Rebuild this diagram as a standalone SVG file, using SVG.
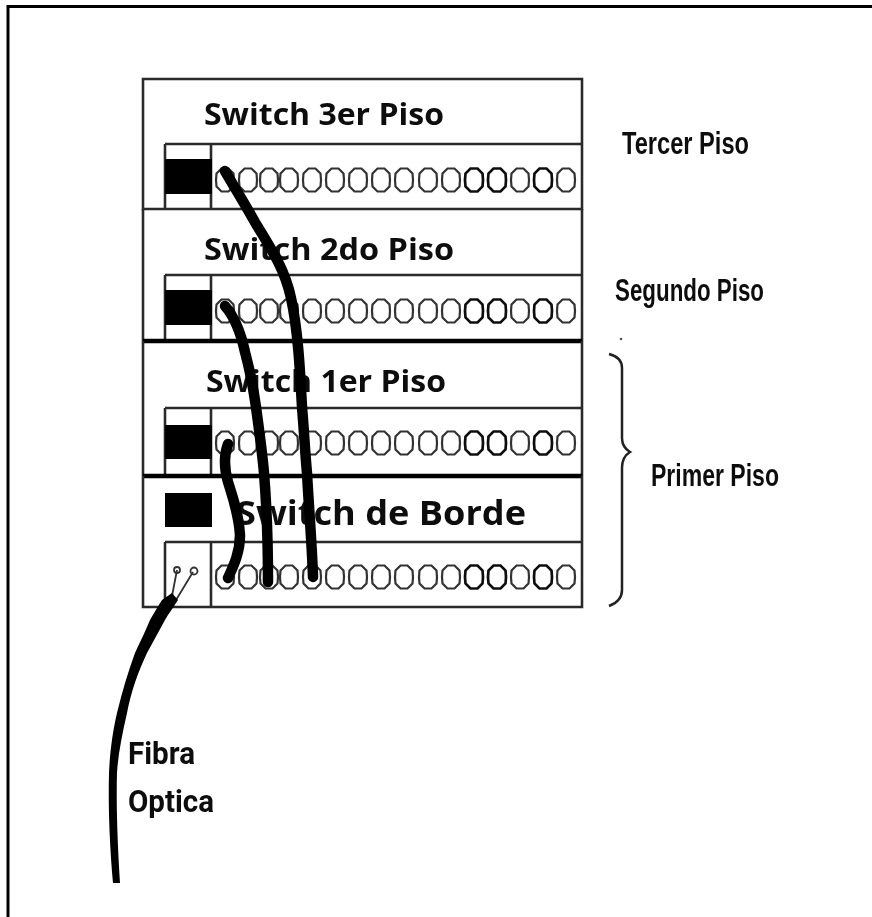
<svg xmlns="http://www.w3.org/2000/svg" xmlns:xlink="http://www.w3.org/1999/xlink" width="872" height="917" viewBox="0 0 872 917">
<style>
.frame{fill:none;stroke:#000;stroke-width:3}
.ln{fill:none;stroke:#2a2a2a;stroke-width:2.6}
.thick{fill:none;stroke:#000;stroke-width:4.500}
.blk{fill:#000}
.port{fill:none;stroke:#333;stroke-width:2.200}
.dark{stroke:#111;stroke-width:2.700}
.cable{fill:none;stroke:#000;stroke-width:10.500;stroke-linecap:round;stroke-linejoin:round}
.sw{font-family:"Open Sans","Lato",sans-serif;font-weight:700;fill:#111}
.side{font-family:"Liberation Sans",Arial,sans-serif;font-weight:700;fill:#111;font-size:31px}
.fib{font-family:"Roboto","Liberation Sans",sans-serif;font-weight:700;fill:#111;font-size:32px}
</style>
<defs>
<filter id="soft" x="-2%" y="-2%" width="104%" height="104%"><feGaussianBlur stdDeviation="0.55"/></filter>
<path id="p" d="M-3.500-11.500L3.500-11.500L8.500-6.500L9 0L8.500 6.500L3.500 11.500H-3.500L-8.500 6.500L-9 0L-8.500-6.500Z"/>
<g id="ports">
<use href="#p" xlink:href="#p" class="port" x="225"/>
<use href="#p" xlink:href="#p" class="port" x="248"/>
<use href="#p" xlink:href="#p" class="port" x="269"/>
<use href="#p" xlink:href="#p" class="port" x="289"/>
<use href="#p" xlink:href="#p" class="port" x="312"/>
<use href="#p" xlink:href="#p" class="port" x="335"/>
<use href="#p" xlink:href="#p" class="port" x="358"/>
<use href="#p" xlink:href="#p" class="port" x="381"/>
<use href="#p" xlink:href="#p" class="port" x="404"/>
<use href="#p" xlink:href="#p" class="port" x="428"/>
<use href="#p" xlink:href="#p" class="port" x="451"/>
<use href="#p" xlink:href="#p" class="port dark" x="474"/>
<use href="#p" xlink:href="#p" class="port dark" x="497"/>
<use href="#p" xlink:href="#p" class="port" x="520"/>
<use href="#p" xlink:href="#p" class="port dark" x="543"/>
<use href="#p" xlink:href="#p" class="port" x="566"/>
</g>
</defs>
<rect width="872" height="917" fill="#fff"/>
<path class="frame" d="M8 917V6.500H872"/>
<g filter="url(#soft)">
<g id="switch-3">
<path class="ln" d="M143 79H582V209H143Z"/>
<path class="ln" d="M165 144H582M165 144V209M211 144V209"/>
<rect class="blk" x="165" y="159" width="47" height="35"/>
<use href="#ports" xlink:href="#ports" y="180"/>
<text class="sw" x="204" y="125" font-size="30" textLength="240" lengthAdjust="spacingAndGlyphs">Switch 3er Piso</text>
</g>
<g id="switch-2">
<path class="ln" d="M143 209V341M582 209V341"/>
<path class="ln" d="M165 275H582M165 275V341M211 275V341"/>
<rect class="blk" x="165" y="290" width="47" height="35"/>
<use href="#ports" xlink:href="#ports" y="311"/>
<text class="sw" x="204" y="260" font-size="30" textLength="250" lengthAdjust="spacingAndGlyphs">Switch 2do Piso</text>
</g>
<g id="switch-1">
<path class="thick" d="M143 341H582"/>
<path class="ln" d="M143 341V476M582 341V476"/>
<path class="ln" d="M165 408H582M165 408V476M211 408V476"/>
<rect class="blk" x="165" y="425" width="47" height="34"/>
<use href="#ports" xlink:href="#ports" y="443"/>
<text class="sw" x="206" y="392" font-size="30" textLength="240" lengthAdjust="spacingAndGlyphs">Switch 1er Piso</text>
</g>
<g id="switch-borde">
<path class="thick" d="M143 476H582"/>
<path class="ln" d="M143 476V607H582V476"/>
<path class="ln" d="M165 542H582M165 542V607M211 542V607"/>
<rect class="blk" x="165" y="493" width="47" height="34"/>
<use href="#ports" xlink:href="#ports" y="577"/>
<text class="sw" x="236" y="525" font-size="34" textLength="290" lengthAdjust="spacingAndGlyphs">Switch de Borde</text>
<circle class="port" cx="177" cy="570" r="3" style="stroke-width:1.800"/>
<circle class="port" cx="194" cy="571" r="3.500" style="stroke-width:1.800"/>
</g>
<g id="connectors">
<path class="cable" d="M225 171C236 190 246 206 256 224C272 250 285 270 291 298C298 330 300 370 302 407C304 430 305 452 307 473C309 510 312 545 313 577"/>
<path class="cable" d="M225 306C234 316 241 334 245 352C252 378 254 394 256 407C259 430 262 450 264 473C267 510 268 550 268 582"/>
<path class="cable" d="M228 444C224 455 224 468 228 482C233 498 239 515 240 535C240 552 234 565 228 578"/>
<path d="M172 596L177 570M176 600L193 572" fill="none" stroke="#333" stroke-width="1.800"/>
<path d="M162 600L172 593L178 600C173 608 169 613 165 620L147 653C138 672 131 692 127 713C122 735 118 755 117 773C116 810 118 850 120 883H113C110 850 108 810 109 773C110 750 113 730 117 713C122 692 128 672 135 653C140 642 146 630 150 620C154 613 158 606 162 600Z" fill="#000"/>
</g>
<g id="labels">
<text class="side" x="622" y="154" textLength="127" lengthAdjust="spacingAndGlyphs">Tercer Piso</text>
<text class="side" x="615" y="301" textLength="149" lengthAdjust="spacingAndGlyphs">Segundo Piso</text>
<text class="side" x="651" y="486" textLength="128" lengthAdjust="spacingAndGlyphs">Primer Piso</text>
<circle cx="621" cy="339" r="1.300" fill="#555"/>
<path d="M609 354C617 356 622 360 622 368V438C622 445 625 449 630 452C625 455 622 460 622 468V590C622 598 617 603 609 606" fill="none" stroke="#222" stroke-width="2.500"/>
<text class="fib" x="128" y="764" textLength="67" lengthAdjust="spacingAndGlyphs">Fibra</text>
<text class="fib" x="128" y="812" textLength="86" lengthAdjust="spacingAndGlyphs">Optica</text>
</g>
</g>
</svg>
